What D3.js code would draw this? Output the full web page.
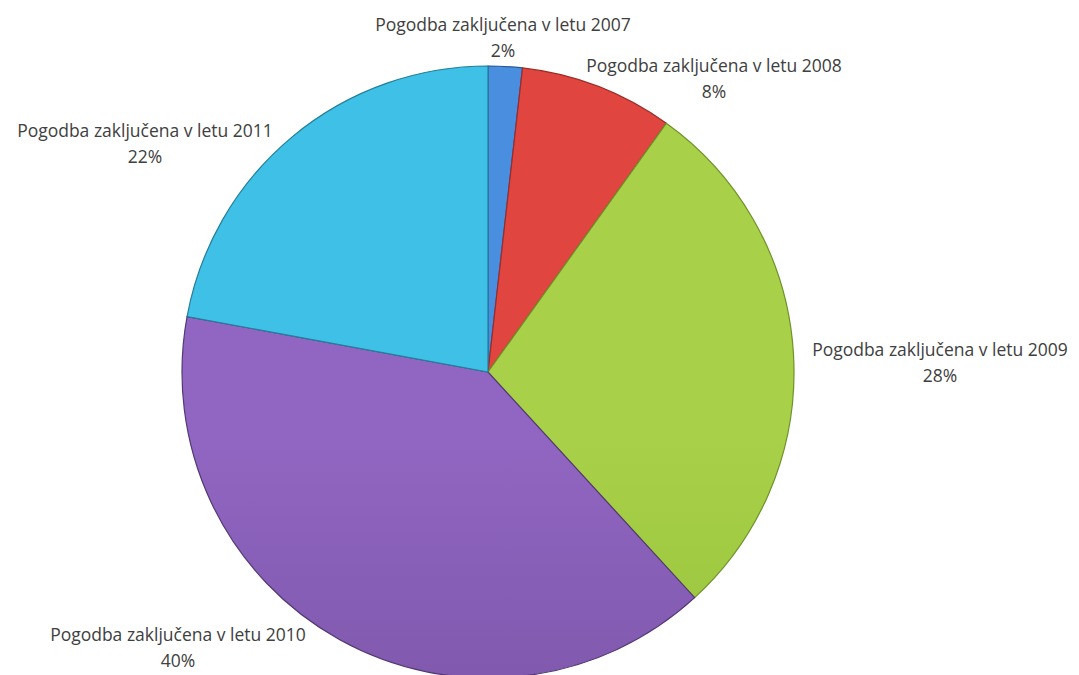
<!DOCTYPE html>
<html><head><meta charset="utf-8">
<script src="https://cdn.jsdelivr.net/npm/d3@7"></script>
<style>body{margin:0;background:#fff}svg{display:block}</style>
</head><body>
<svg id="c" width="1079" height="675"></svg>
<script>
const categories = ["Pogodba zaključena v letu 2007","Pogodba zaključena v letu 2008","Pogodba zaključena v letu 2009","Pogodba zaključena v letu 2010","Pogodba zaključena v letu 2011"];
const values = [1.8, 8.1, 28.3, 39.7, 22.1];
const colorsTop = ["#4a8ee0","#e0463f","#a8d048","#9166c2","#3fc0e6"];
const colorsBottom = ["#2f6cc0","#c23530","#88b533","#674690","#2a9dbd"];
const labelPos = [[503,31],[714,72],[940,356],[178,641],[145,137]];

const svg = d3.select("#c");
const cx = 488, cy = 372, R = 306;
const defs = svg.append("defs");
colorsTop.forEach((c,i)=>{
  const g = defs.append("linearGradient").attr("id","g"+i).attr("gradientUnits","userSpaceOnUse")
    .attr("x1",0).attr("y1",cy-R).attr("x2",0).attr("y2",cy+R);
  g.append("stop").attr("offset","0%").attr("stop-color",c);
  g.append("stop").attr("offset","100%").attr("stop-color",colorsBottom[i]);
});
const pie = d3.pie().sort(null).value(d=>d);
const arc = d3.arc().innerRadius(0).outerRadius(R);
const g = svg.append("g").attr("transform",`translate(${cx},${cy})`);
g.selectAll("path").data(pie(values)).enter().append("path")
  .attr("d",arc)
  .attr("fill",(d,i)=>`url(#g${i})`)
  .attr("stroke",(d,i)=>d3.color(colorsBottom[i]).darker(0.6))
  .attr("stroke-width",1.2);

const lab = svg.append("g").attr("font-family","'Open Sans', sans-serif").attr("font-size",17.5).attr("fill","#404040").attr("text-anchor","middle");
categories.forEach((c,i)=>{
  const t = lab.append("text").attr("x",labelPos[i][0]).attr("y",labelPos[i][1]);
  t.append("tspan").attr("x",labelPos[i][0]).text(c);
  t.append("tspan").attr("x",labelPos[i][0]).attr("dy",26).text(Math.round(values[i])+"%");
});
</script>
</body></html>
